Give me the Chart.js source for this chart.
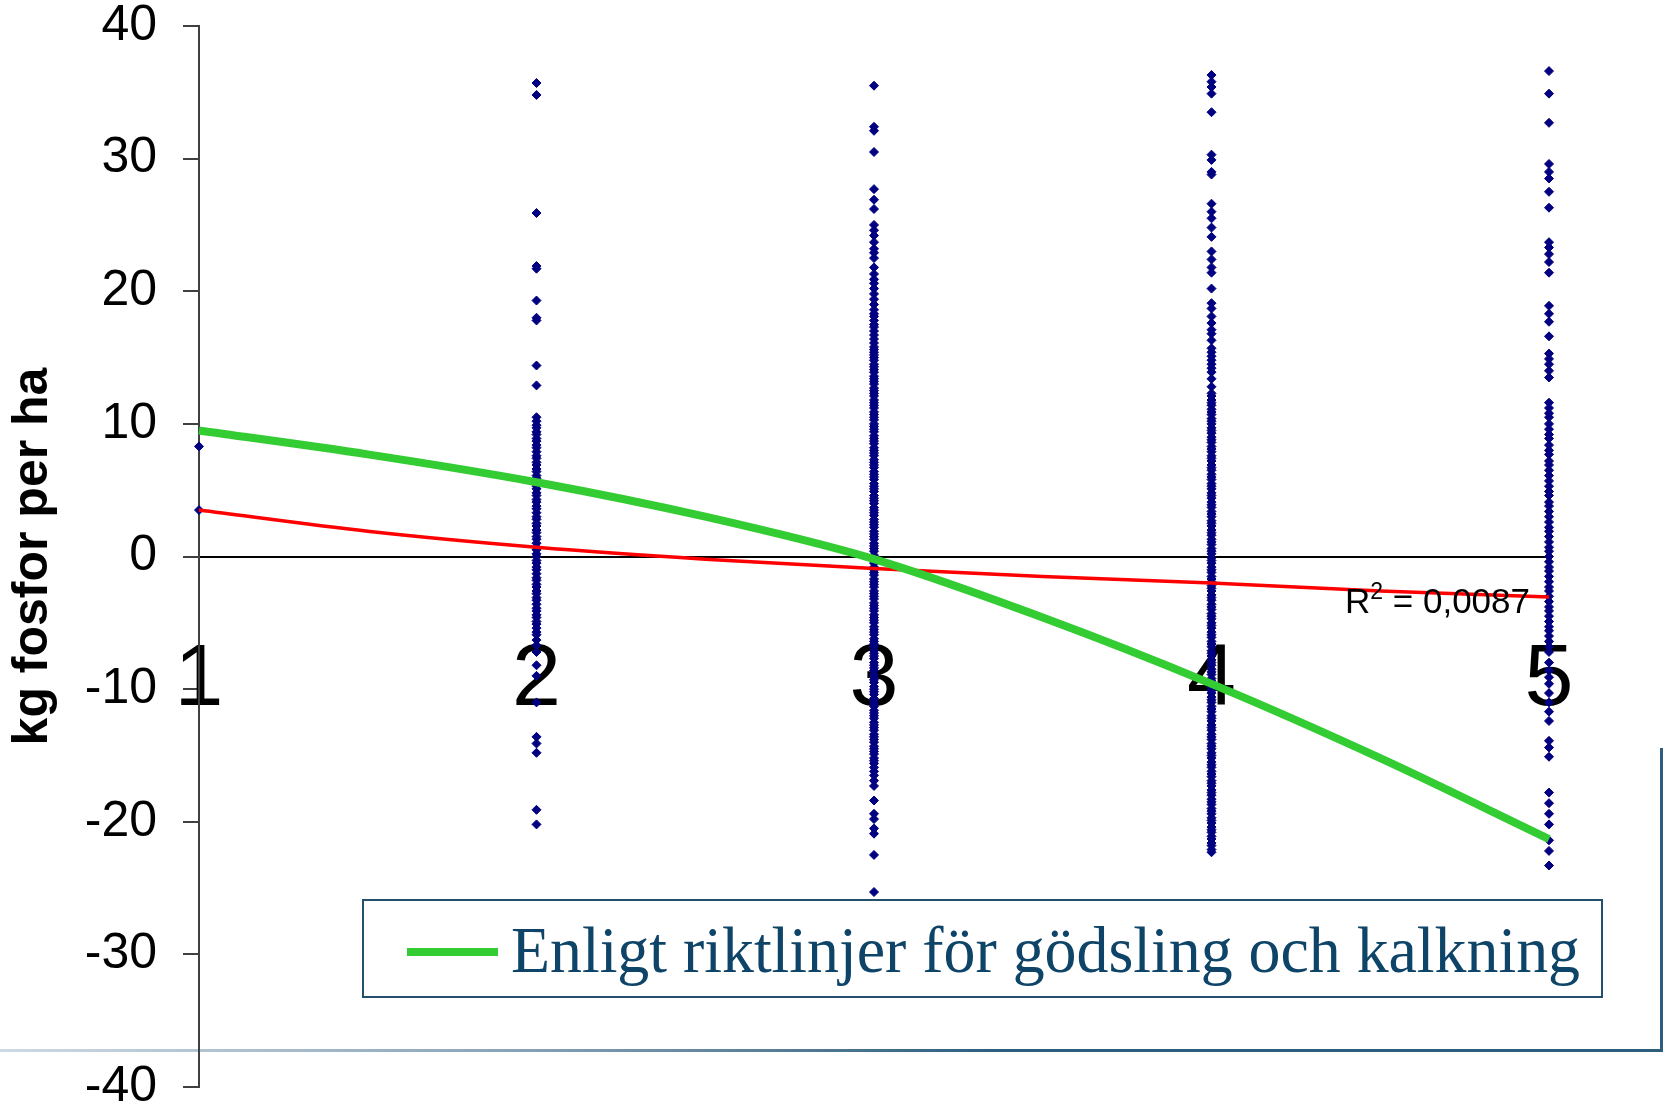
<!DOCTYPE html>
<html>
<head>
<meta charset="utf-8">
<script src="https://cdn.jsdelivr.net/npm/chart.js@4.4.1/dist/chart.umd.min.js"></script>
<style>
  html, body { margin: 0; padding: 0; background: #fff; }
  #wrap { width: 1665px; height: 1107px; }
</style>
</head>
<body>
<div id="wrap"><canvas id="chart" width="1665" height="1107"></canvas></div>
<script>
const classTicks = [1, 2, 3, 4, 5];

const class1 = [8.3, 3.5];
const class2 = [35.7, 34.8, 25.9, 21.9, 21.7, 19.3, 18.0, 17.8, 14.4, 12.9, 10.5,
  10.2, 9.9, 9.7, 9.4, 9.2, 8.9, 8.7, 8.4, 8.2, 7.9, 7.6, 7.4, 7.1, 6.9, 6.6, 6.4, 6.1,
  5.9, 5.6, 5.3, 5.1, 4.8, 4.6, 4.3, 4.1, 3.8, 3.6, 3.3, 3.0, 2.8, 2.5, 2.3, 2.0, 1.8,
  1.5, 1.3, 1.0, 0.7, 0.5, 0.2, 0.0, -0.3, -0.5, -0.8, -1.0, -1.3, -1.6, -1.8, -2.1,
  -2.3, -2.6, -2.8, -3.1, -3.3, -3.6, -3.9, -4.1, -4.4, -4.6, -4.9, -5.1, -5.4, -5.7,
  -5.9, -6.3, -6.7, -7.2, -8.2, -9.0, -11.0, -13.6, -14.1, -14.8, -19.1, -20.2];
const class3 = [35.5, 32.4, 32.1, 30.5, 27.7, 26.9, 26.2, 25.0, 24.6, 24.2, 23.7, 23.2, 22.9,
  22.5, 21.8, 21.3, 20.9, 20.6, 20.2, 19.8, 19.4, 19.0, 18.6, 18.3, 18.1, 17.8, 17.5,
  17.3, 17.0, 16.7, 16.4, 16.1, 15.8, 15.6, 15.4, 15.2,
  15.0, 14.8, 14.5, 14.3, 14.1, 13.9, 13.6, 13.4, 13.2, 13.0, 12.7, 12.5, 12.3, 12.1,
  11.8, 11.6, 11.4, 11.2, 10.9, 10.7, 10.5, 10.3, 10.0, 9.8, 9.6, 9.4, 9.1, 8.9, 8.7,
  8.5, 8.2, 8.0, 7.8, 7.6, 7.3, 7.1, 6.9, 6.7, 6.4, 6.2, 6.0, 5.8, 5.5, 5.3, 5.1, 4.9,
  4.6, 4.4, 4.2, 4.0, 3.7, 3.5, 3.3, 3.1, 2.8, 2.6, 2.4, 2.2, 1.9, 1.7, 1.5, 1.3, 1.0,
  0.8, 0.6, 0.4, 0.1, -0.1, -0.3, -0.5, -0.8, -1.0, -1.2, -1.4, -1.7, -1.9, -2.1, -2.3,
  -2.6, -2.8, -3.0, -3.2, -3.5, -3.7, -3.9, -4.1, -4.4, -4.6, -4.8, -5.0, -5.3, -5.5,
  -5.7, -5.9, -6.2, -6.4, -6.6, -6.8, -7.1, -7.3, -7.5, -7.7, -8.0, -8.2, -8.4, -8.6,
  -8.9, -9.1, -9.3, -9.5, -9.8, -10.0, -10.2, -10.4, -10.7, -10.9, -11.1, -11.3, -11.6,
  -11.8, -12.0, -12.2, -12.5, -12.7, -12.9, -13.1, -13.4, -13.6, -13.8, -14.0, -14.3,
  -14.5, -14.7, -14.9, -15.2, -15.4, -15.6, -15.9, -16.2, -16.5, -16.9, -17.3,
  -18.4, -19.4, -19.8, -20.5, -20.9, -22.5, -25.3];
const class4 = [36.3, 35.8, 35.4, 34.9, 33.5, 30.3, 29.9, 29.0, 28.8, 26.6, 26.0, 25.5, 24.8,
  24.1, 23.0, 22.4, 21.8, 21.4, 20.2, 19.1, 18.7, 18.1, 17.6, 17.1, 16.8, 16.3, 15.7,
  15.4, 15.1, 14.8, 14.5, 14.2, 13.9, 13.4, 12.8,
  12.3, 12.1, 11.8, 11.6, 11.4, 11.1, 10.9, 10.7, 10.4, 10.2, 10.0, 9.7, 9.5, 9.3, 9.0,
  8.8, 8.6, 8.3, 8.1, 7.9, 7.6, 7.4, 7.2, 6.9, 6.7, 6.5, 6.2, 6.0, 5.8, 5.5, 5.3, 5.1,
  4.8, 4.6, 4.4, 4.1, 3.9, 3.7, 3.4, 3.2, 3.0, 2.7, 2.5, 2.3, 2.0, 1.8, 1.6, 1.3, 1.1,
  0.9, 0.6, 0.4, 0.2, -0.1, -0.3, -0.5, -0.8, -1.0, -1.2, -1.5, -1.7, -1.9, -2.2, -2.4,
  -2.6, -2.9, -3.1, -3.3, -3.6, -3.8, -4.0, -4.3, -4.5, -4.7, -5.0, -5.2, -5.4, -5.7,
  -5.9, -6.1, -6.4, -6.6, -6.8, -7.1, -7.3, -7.5, -7.8, -8.0, -8.2, -8.5, -8.7, -8.9,
  -9.2, -9.4, -9.6, -9.9, -10.1, -10.3, -10.6, -10.8, -11.0, -11.3, -11.5, -11.7, -12.0,
  -12.2, -12.4, -12.7, -12.9, -13.1, -13.4, -13.6, -13.8, -14.1, -14.3, -14.5, -14.8,
  -15.0, -15.2, -15.5, -15.7, -15.9, -16.2, -16.4, -16.6, -16.9, -17.1, -17.3, -17.6,
  -17.8, -18.0, -18.3, -18.5, -18.7, -19.0, -19.2, -19.4, -19.7, -19.9, -20.1, -20.4,
  -20.6, -20.8, -21.1, -21.3, -21.6, -21.8, -22.1, -22.3];
const class5 = [36.6, 34.9, 32.7, 29.6, 29.0, 28.5, 27.5, 26.3, 23.7, 23.3, 22.8, 22.2, 21.4,
  18.9, 18.3, 17.7, 16.6, 15.3, 14.9, 14.5, 14.0, 13.5, 11.6, 11.2, 10.8, 10.5, 10.0,
  9.6, 9.2, 8.9, 8.4, 8.0, 7.7, 7.2, 6.9, 6.5, 6.1, 5.7, 5.3, 4.9, 4.6, 4.1, 3.8, 3.4,
  3.0, 2.6, 2.2, 1.9, 1.5, 1.1, 0.7, 0.4, 0.0, -0.4, -0.8, -1.1, -1.5, -1.9, -2.3, -2.6,
  -3.0, -3.4, -3.8, -4.1, -4.5, -4.9, -5.3, -5.6, -6.0, -6.4, -6.8, -7.2, -8.0, -8.6,
  -9.1, -9.6, -10.3, -11.0, -11.7, -12.4, -13.9, -14.4, -15.1, -17.8, -18.6, -19.4,
  -20.2, -21.4, -22.2, -23.3];

// trend lines, read at half steps
const trendX = [1, 1.5, 2, 2.5, 3, 3.5, 4, 4.5, 5];
const logTrend = [3.5, 1.9, 0.7, -0.2, -0.9, -1.5, -2.0, -2.6, -3.05];
const guideline = [9.5, 7.7, 5.6, 3.0, -0.2, -4.6, -9.6, -15.2, -21.3];

const guideLabel = 'Enligt riktlinjer för gödsling och kalkning';
const rSquared = '0,0087';

const allClasses = [class1, class2, class3, class4, class5];
const points = [];
allClasses.forEach((vals, i) => {
    vals.forEach(v => points.push({ x: classTicks[i], y: v }));
});
const toXY = ys => ys.map((y, i) => ({ x: trendX[i], y }));

const sans = '"Liberation Sans", Arial, sans-serif';

// the slide frame behind the chart
const framePlugin = {
    id: 'frame',
    beforeDraw(chart) {
        const ctx = chart.ctx;
        ctx.save();
        const grad = ctx.createLinearGradient(0, 0, 1663, 0);
        grad.addColorStop(0, 'rgba(205,218,228,1)');
        grad.addColorStop(0.3, '#8aa4b8');
        grad.addColorStop(0.6, '#2e5e7e');
        grad.addColorStop(1, '#2e5e7e');
        ctx.strokeStyle = grad;
        ctx.lineWidth = 3;
        ctx.beginPath();
        ctx.moveTo(0, 1050.5);
        ctx.lineTo(1663, 1050.5);
        ctx.stroke();
        ctx.strokeStyle = '#2e5e7e';
        ctx.beginPath();
        ctx.moveTo(1661.5, 748);
        ctx.lineTo(1661.5, 1052);
        ctx.stroke();
        ctx.restore();
    }
};

// R² label and boxed legend for the guideline curve
const notesPlugin = {
    id: 'notes',
    afterDraw(chart) {
        const ctx = chart.ctx;
        const xs = chart.scales.x;
        const ys = chart.scales.y;
        ctx.save();

        // R² = ... with a raised 2
        ctx.fillStyle = '#000';
        ctx.textAlign = 'left';
        ctx.textBaseline = 'alphabetic';
        const big = '35px ' + sans, small = '23px ' + sans;
        const rest = ' = ' + rSquared;
        ctx.font = big;
        const wR = ctx.measureText('R').width, wRest = ctx.measureText(rest).width;
        ctx.font = small;
        const w2 = ctx.measureText('2').width;
        const right = xs.getPixelForValue(5) - 19;
        const base = ys.getPixelForValue(logTrend[logTrend.length - 1]) + 16;
        let x0 = right - (wR + w2 + wRest);
        ctx.font = big;
        ctx.fillText('R', x0, base);
        ctx.font = small;
        ctx.fillText('2', x0 + wR, base - 14);
        ctx.font = big;
        ctx.fillText(rest, x0 + wR + w2, base);

        const bx = 363, by = 900, bw = 1239, bh = 97;
        ctx.fillStyle = '#fff';
        ctx.fillRect(bx, by, bw, bh);
        ctx.strokeStyle = '#24506e';
        ctx.lineWidth = 2;
        ctx.strokeRect(bx, by, bw, bh);

        const ds = chart.data.datasets[0];
        ctx.strokeStyle = ds.borderColor;
        ctx.lineWidth = 8;
        ctx.beginPath();
        ctx.moveTo(407, 952);
        ctx.lineTo(498, 952);
        ctx.stroke();

        ctx.font = '65px "Liberation Serif", "Times New Roman", serif';
        ctx.fillStyle = '#0d4468';
        const w = ctx.measureText(ds.label).width;
        ctx.translate(511, 971.5);
        ctx.scale(1069 / w, 1);
        ctx.fillText(ds.label, 0, 0);
        ctx.restore();
    }
};

new Chart(document.getElementById('chart'), {
    type: 'scatter',
    data: {
        datasets: [
            {
                label: guideLabel,
                data: toXY(guideline),
                showLine: true,
                borderColor: '#33cc33',
                borderWidth: 8,
                pointRadius: 0,
                cubicInterpolationMode: 'monotone',
                clip: false,
                order: 1
            },
            {
                label: 'Logaritmisk trend',
                data: toXY(logTrend),
                showLine: true,
                borderColor: '#ff0000',
                borderWidth: 3.5,
                pointRadius: 0,
                cubicInterpolationMode: 'monotone',
                clip: false,
                order: 2
            },
            {
                label: 'kg fosfor per ha',
                data: points,
                pointStyle: 'rectRot',
                pointRadius: 4.5,
                pointBorderWidth: 1,
                backgroundColor: '#000080',
                borderColor: '#000080',
                clip: false,
                order: 3
            }
        ]
    },
    options: {
        responsive: false,
        devicePixelRatio: 1,
        animation: false,
        layout: { padding: { top: 26, right: 116, bottom: 20, left: 0 } },
        plugins: {
            legend: { display: false },
            tooltip: { enabled: false }
        },
        scales: {
            x: {
                type: 'linear',
                position: { y: 0 },
                min: 1,
                max: 5,
                ticks: {
                    stepSize: 1,
                    color: '#000',
                    padding: 47,
                    font: { family: sans, size: 88 }
                },
                grid: { drawOnChartArea: false, tickLength: 24, color: '#000', lineWidth: 2 },
                border: { color: '#000', width: 2 },
                afterFit(scale) {
                    scale.height = 0;
                    scale.paddingLeft = 0;
                    scale.paddingRight = 0;
                    scale.paddingTop = 0;
                    scale.paddingBottom = 0;
                }
            },
            y: {
                min: -40,
                max: 40,
                ticks: {
                    stepSize: 10,
                    color: '#000',
                    padding: 26,
                    font: { family: sans, size: 50, lineHeight: 0.8 }
                },
                grid: { drawOnChartArea: false, tickLength: 16, color: '#404040', lineWidth: 2 },
                border: { color: '#404040', width: 2 },
                title: {
                    display: true,
                    text: 'kg fosfor per ha',
                    color: '#000',
                    padding: { top: 3, bottom: 0 },
                    font: { family: sans, size: 50, weight: 'bold' }
                },
                afterFit(scale) {
                    scale.width = 199;
                    scale.paddingTop = 0;
                    scale.paddingBottom = 0;
                }
            }
        }
    },
    plugins: [framePlugin, notesPlugin]
});
</script>
</body>
</html>
